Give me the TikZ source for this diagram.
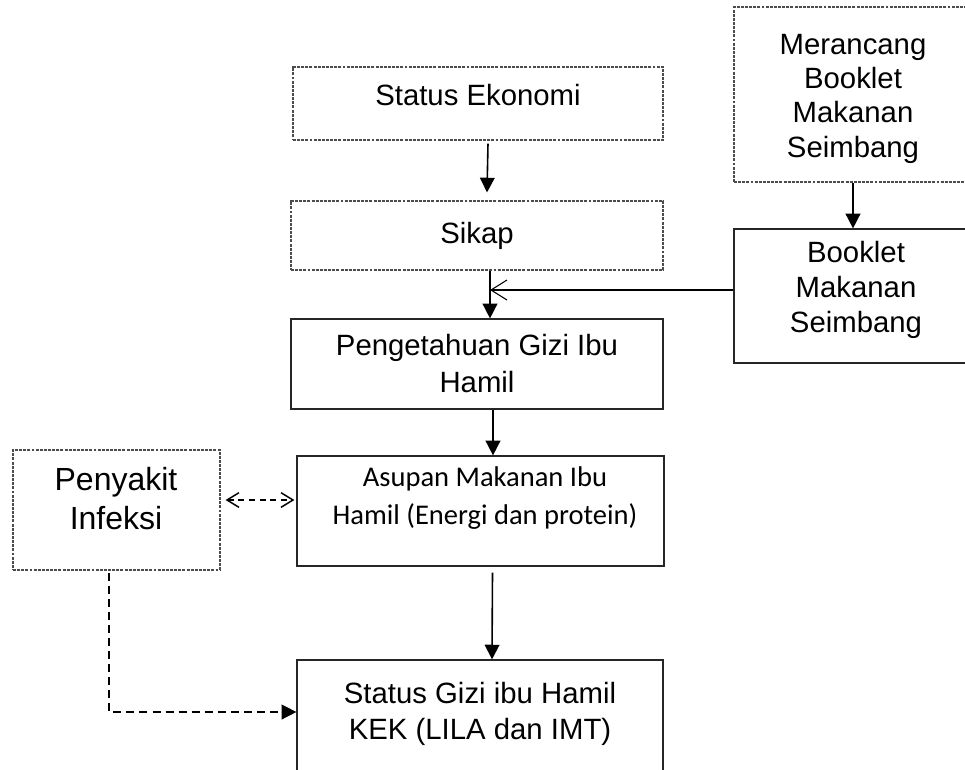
\documentclass[tikz,border=0pt]{standalone}
\usepackage{fontspec}
\setmainfont{Liberation Sans}
\newfontfamily\carlito{Carlito}
\usetikzlibrary{arrows.meta,fit,calc}
\begin{document}
\begin{tikzpicture}[x=0.75pt,y=-0.75pt,
  solidbox/.style={draw=black!85, line width=0.9pt, inner sep=0pt},
  dotbox/.style={draw=black!70, line width=0.9pt, dash pattern=on 2.2pt off 0.9pt, inner sep=0pt},
  txt/.style={align=center, inner sep=0pt, anchor=base},
  arr/.style={line width=1.2pt, -{Triangle[length=11pt,width=11pt]}},
  openarr/.style={line width=0.8pt, -{Straight Barb[length=12pt,width=15pt]}},
  dasharr/.style={line width=1.1pt, dash pattern=on 4.5pt off 3.5pt, {Straight Barb[length=9pt,width=11pt]}-{Straight Barb[length=9pt,width=11pt]}},
  dashline/.style={line width=1.1pt, dash pattern=on 6pt off 3.8pt, -{Triangle[length=11pt,width=11pt]}}
]
\useasboundingbox (0,0) rectangle (965,769);
\clip (0,0) rectangle (965,769);

% boxes
\node[dotbox, fit={(293,67)(663,140)}] (se) {};
\node[dotbox, fit={(291,201)(663,270)}] (sk) {};
\node[dotbox, fit={(734,7)(980,182)}] (mr) {};
\node[solidbox, fit={(734,229)(980,363)}] (bk) {};
\node[solidbox, fit={(291,319)(663,409)}] (pg) {};
\node[solidbox, fit={(297,456)(664,566)}] (as) {};
\node[dotbox, fit={(13,450)(220,570)}] (pi) {};
\node[solidbox, fit={(297,660)(663,790)}] (sg) {};

% texts (anchor at baseline of the last line)
\node[txt, font=\fontsize{22}{26}\selectfont] (tse) at (478,105) {Status Ekonomi};
\node[txt, font=\fontsize{22}{26}\selectfont] (tsk) at (477,243) {Sikap};
\node[txt, font=\fontsize{22}{25.7}\selectfont] (tmr) at (853,157) {Merancang\\Booklet\\Makanan\\Seimbang};
\node[txt, font=\fontsize{22}{26}\selectfont] (tbk) at (856,332) {Booklet\\Makanan\\Seimbang};
\node[txt, font=\fontsize{22}{27.7}\selectfont] (tpg) at (477,392) {Pengetahuan Gizi Ibu\\Hamil};
\node[txt, font=\carlito\fontsize{21.4}{28.5}\selectfont] (tas) at (485,524) {Asupan Makanan Ibu\\Hamil (Energi dan protein)};
\node[txt, font=\fontsize{24}{29}\selectfont] (tpi) at (116,529) {Penyakit\\Infeksi};
\node[txt, font=\fontsize{22}{27}\selectfont] (tsg) at (480,739) {Status Gizi ibu Hamil\\KEK (LILA dan IMT)};

% connectors
\coordinate (j) at (490,290);
\draw[arr] ($(se.south)+(10,3)$) -- ($(sk.north)+(10,-8)$);
\draw[arr] (sk.south -| j) -- (pg.north -| j);
\draw[openarr] (j -| bk.west) -- (j);
\draw[arr] ($(mr.south)+(-4,0)$) -- ($(bk.north)+(-4,0)$);
\draw[arr] ($(pg.south)+(16,0)$) -- ($(as.north)+(12.5,0)$);
\draw[arr] ($(as.south)+(12,6)$) -- ($(sg.north)+(12,0)$);
\draw[dasharr] ($(pi.east)+(5,-10)$) -- ($(as.west)+(-2,-11)$);
\draw[dashline] ($(pi.south)+(-7.5,2)$) |- ($(sg.west)+(0,-13)$);
\end{tikzpicture}
\end{document}
